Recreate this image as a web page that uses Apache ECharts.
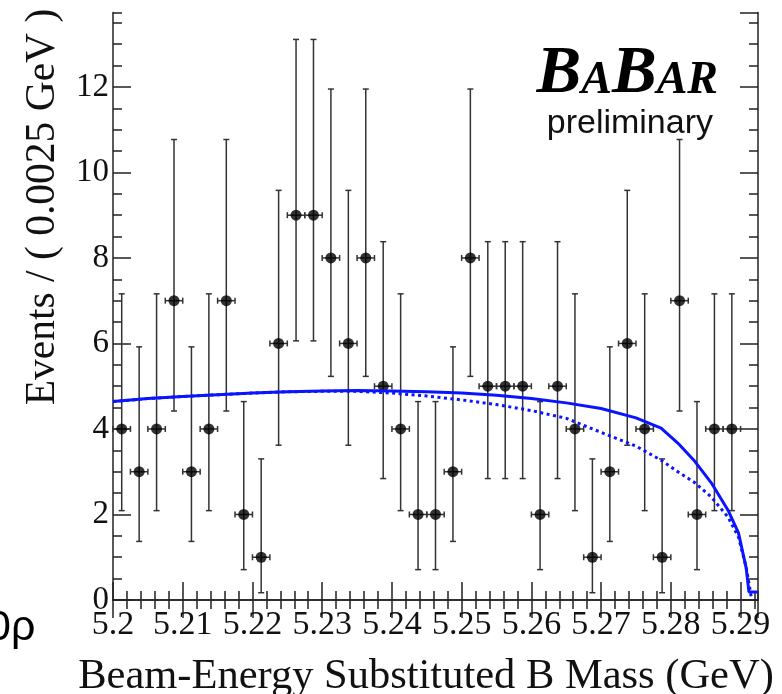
<!DOCTYPE html>
<html><head><meta charset="utf-8">
<script src="https://cdn.jsdelivr.net/npm/echarts@6/dist/echarts.min.js"></script>
<style>html,body{margin:0;padding:0;background:#fff}#c{width:782px;height:694px}</style>
</head><body><div id="c"></div>
<script>
// ---- data ----
const binCenters = [5.20125,5.20375,5.20625,5.20875,5.21125,5.21375,5.21625,5.21875,5.22125,5.22375,
  5.22625,5.22875,5.23125,5.23375,5.23625,5.23875,5.24125,5.24375,5.24625,5.24875,
  5.25125,5.25375,5.25625,5.25875,5.26125,5.26375,5.26625,5.26875,5.27125,5.27375,
  5.27625,5.27875,5.28125,5.28375,5.28625,5.28875];
const counts = [4,3,4,7,3,4,7,2,1,6,9,9,8,6,8,5,4,2,2,3,8,5,5,5,2,5,4,1,3,6,4,1,7,2,4,4];
const errLo = [2.09,1.37,2.09,4.42,1.37,2.09,4.42,0.71,0.17,3.62,6.06,6.06,5.23,3.62,5.23,2.84,2.09,0.71,0.71,1.37,
  5.23,2.84,2.84,2.84,0.71,2.84,2.09,0.17,1.37,3.62,2.09,0.17,4.42,0.71,2.09,2.09];
const errHi = [7.16,5.92,7.16,10.77,5.92,7.16,10.77,4.64,3.30,9.58,13.11,13.11,11.95,9.58,11.95,8.38,7.16,4.64,4.64,5.92,
  11.95,8.38,8.38,8.38,4.64,8.38,7.16,3.30,5.92,9.58,7.16,3.30,10.77,4.64,7.16,7.16];
const binHalfWidth = 0.00125;

const totalX = [5.2,5.205,5.21,5.215,5.22,5.225,5.23,5.235,5.24,5.245,5.25,5.255,5.26,5.265,5.27,5.275,5.2786,5.281,5.2833,5.2858,5.2882,5.2897,5.2908,5.2912,5.2925];
const totalY = [4.64,4.71,4.76,4.80,4.84,4.87,4.89,4.90,4.89,4.87,4.84,4.79,4.71,4.61,4.48,4.26,4.02,3.67,3.27,2.74,2.10,1.57,0.75,0.19,0.19];
const bkgX = [5.2,5.205,5.21,5.215,5.22,5.225,5.23,5.235,5.24,5.245,5.25,5.255,5.26,5.265,5.27,5.275,5.2786,5.281,5.2833,5.2858,5.2882,5.2897,5.2908,5.2913,5.2916];
const bkgY = [4.64,4.71,4.76,4.80,4.84,4.87,4.88,4.88,4.84,4.77,4.68,4.57,4.43,4.25,3.92,3.60,3.27,3.00,2.76,2.41,1.94,1.47,0.77,0.30,0.0];

const yTickLabels = ['0','2','4','6','8','10','12'];
const xTickLabels = ['5.2','5.21','5.22','5.23','5.24','5.25','5.26','5.27','5.28','5.29'];

// ---- chart ----
const serif = 'Liberation Serif';
const X_MIN = 5.2, X_MAX = 5.2925, Y_MIN = 0, Y_MAX = 13.74;
const frameColor = '#222';

function xAxisDef(pos, major, labels) {
  return {
    type: 'value', position: pos, min: X_MIN, max: X_MAX,
    interval: major ? 0.01 : 0.002,
    axisLine: { show: major, lineStyle: { color: frameColor, width: 1.5 } },
    axisTick: { show: true, inside: true, length: major ? 18 : 9, lineStyle: { color: frameColor, width: 1.5 } },
    axisLabel: labels ? {
      show: true, showMaxLabel: false, margin: 8, color: '#111',
      fontFamily: serif, fontSize: 34,
      formatter: v => { const i = Math.round((v - 5.2) / 0.01); return xTickLabels[i] || ''; }
    } : { show: false },
    splitLine: { show: false }
  };
}
function yAxisDef(pos, major, labels) {
  return {
    type: 'value', position: pos, min: Y_MIN, max: Y_MAX,
    interval: major ? 2 : 0.5,
    axisLine: { show: major, lineStyle: { color: frameColor, width: 1.5 } },
    axisTick: { show: true, inside: true, length: major ? 18 : 9, lineStyle: { color: frameColor, width: 1.5 } },
    axisLabel: labels ? {
      show: true, showMaxLabel: false, margin: 4, color: '#111',
      fontFamily: serif, fontSize: 33,
      formatter: v => { const i = Math.round(v / 2); return yTickLabels[i] || ''; }
    } : { show: false },
    splitLine: { show: false }
  };
}

const chart = echarts.init(document.getElementById('c'), null, { renderer: 'canvas' });
const errStyle = () => ({ stroke: '#333', lineWidth: 1.5 });

chart.setOption({
  animation: false,
  backgroundColor: '#fff',
  grid: { left: 113, right: 24, top: 12.5, bottom: 94, containLabel: false },
  xAxis: [xAxisDef('bottom', true, true), xAxisDef('bottom', false, false),
          xAxisDef('top', true, false), xAxisDef('top', false, false)],
  yAxis: [yAxisDef('left', true, true), yAxisDef('left', false, false),
          yAxisDef('right', true, false), yAxisDef('right', false, false)],
  graphic: [
    { type: 'text', x: 43, y: 207, rotation: Math.PI / 2,
      style: { text: 'Events / ( 0.0025 GeV )', font: '41.5px "Liberation Serif"', fill: '#111',
               textAlign: 'center', textVerticalAlign: 'middle' } },
    { type: 'text', x: 426, y: 677,
      style: { text: 'Beam-Energy Substituted B Mass (GeV)', font: '42.5px "Liberation Serif"', fill: '#111',
               textAlign: 'center', textVerticalAlign: 'middle' } },
    { type: 'text', x: 718, y: 108,
      style: { text: '{b|B}{s|A}{b|B}{s|AR}', textAlign: 'right', textVerticalAlign: 'bottom',
               rich: {
                 b: { fontSize: 67, fontFamily: serif, fontWeight: 'bold', fontStyle: 'italic', fill: '#000', verticalAlign: 'bottom', lineHeight: 70 },
                 s: { fontSize: 46, fontFamily: serif, fontWeight: 'bold', fontStyle: 'italic', fill: '#000', verticalAlign: 'bottom', lineHeight: 70, padding: [0, 0, 4, 0] }
               } } },
    { type: 'text', x: 713, y: 124,
      style: { text: 'preliminary', font: '34px "Liberation Sans"', fill: '#111',
               textAlign: 'right', textVerticalAlign: 'middle' } },
    { type: 'text', x: -13, y: 628,
      style: { text: '0ρ', font: '43px "Liberation Sans"', fill: '#000',
               textAlign: 'left', textVerticalAlign: 'middle' } }
  ],
  series: [
    {
      type: 'custom', xAxisIndex: 0, yAxisIndex: 0, z: 2,
      data: binCenters.map((x, i) => [x, counts[i], errLo[i], errHi[i]]),
      encode: { x: 0, y: [1, 2, 3] },
      renderItem: function (params, api) {
        const x = api.value(0), y = api.value(1), lo = api.value(2), hi = api.value(3);
        const pT = api.coord([x, hi]), pB = api.coord([x, lo]);
        const pL = api.coord([x - binHalfWidth, y]), pR = api.coord([x + binHalfWidth, y]);
        const c = 3;
        return { type: 'group', children: [
          { type: 'line', shape: { x1: pT[0], y1: pT[1], x2: pB[0], y2: pB[1] }, style: errStyle() },
          { type: 'line', shape: { x1: pT[0] - c, y1: pT[1], x2: pT[0] + c, y2: pT[1] }, style: errStyle() },
          { type: 'line', shape: { x1: pB[0] - c, y1: pB[1], x2: pB[0] + c, y2: pB[1] }, style: errStyle() },
          { type: 'line', shape: { x1: pL[0], y1: pL[1], x2: pR[0], y2: pR[1] }, style: errStyle() },
          { type: 'line', shape: { x1: pL[0], y1: pL[1] - c, x2: pL[0], y2: pL[1] + c }, style: errStyle() },
          { type: 'line', shape: { x1: pR[0], y1: pR[1] - c, x2: pR[0], y2: pR[1] + c }, style: errStyle() }
        ] };
      }
    },
    {
      type: 'scatter', xAxisIndex: 0, yAxisIndex: 0, z: 3,
      data: binCenters.map((x, i) => [x, counts[i]]),
      symbol: 'circle', symbolSize: 11,
      itemStyle: { color: '#000' }
    },
    {
      type: 'line', xAxisIndex: 0, yAxisIndex: 0, z: 4,
      data: bkgX.map((x, i) => [x, bkgY[i]]),
      showSymbol: false, symbol: 'none', smooth: false,
      lineStyle: { color: '#0a14ff', width: 3, type: [3, 3.5] }
    },
    {
      type: 'line', xAxisIndex: 0, yAxisIndex: 0, z: 5,
      data: totalX.map((x, i) => [x, totalY[i]]),
      showSymbol: false, symbol: 'none', smooth: false,
      lineStyle: { color: '#0a14ff', width: 3 }
    }
  ]
});
</script>
</body></html>
